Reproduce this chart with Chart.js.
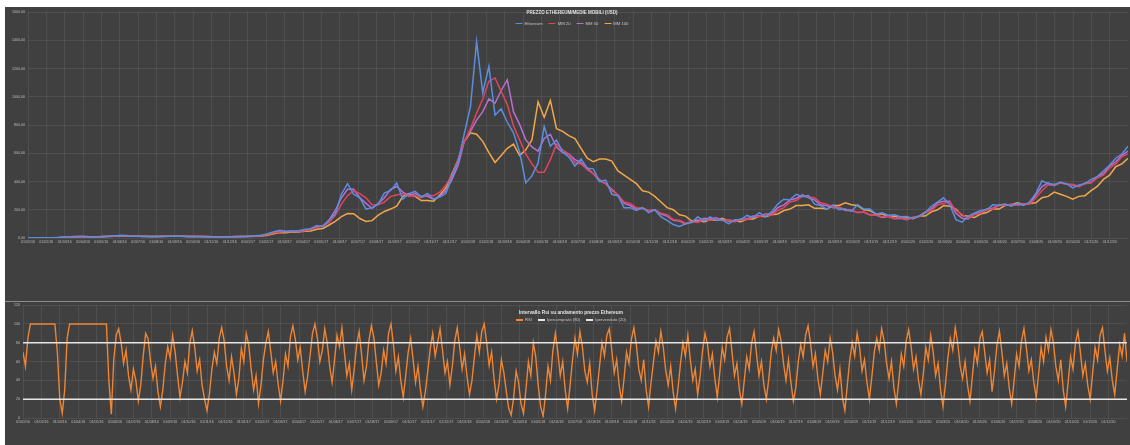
<!DOCTYPE html>
<html>
<head>
<meta charset="utf-8">
<script src="https://cdn.jsdelivr.net/npm/chart.js@4.4.1/dist/chart.umd.min.js"></script>
<style>
  html, body { margin: 0; padding: 0; background: #ffffff; }
  #wrap { position: absolute; left: 5px; top: 7px; width: 1125px; height: 438px; background: #404040; overflow: hidden;
          font-family: "Liberation Sans", Arial, sans-serif; }
  #wrap canvas { position: absolute; left: 0; }
  #priceCanvas { top: 0; }
  #rsiCanvas { top: 293px; }
  .sep { position: absolute; left: 0; top: 294px; width: 1125px; height: 1px; background: #8c8c8c; }
  .title { position: absolute; color: #e2e2e2; font-weight: bold; white-space: nowrap; transform: translateX(-50%); line-height: 1; }
  .legend { position: absolute; color: #c4c4c4; font-size: 4.2px; white-space: nowrap; transform: translateX(-50%);
            display: flex; gap: 6px; align-items: center; line-height: 1; }
  .legend .sw { display: inline-block; width: 7px; height: 1.5px; margin-right: 2px; vertical-align: middle; }
</style>
</head>
<body>
<div id="wrap">
  <canvas id="priceCanvas" width="1125" height="293"></canvas>
  <canvas id="rsiCanvas" width="1125" height="145"></canvas>
  <div class="sep"></div>
  <div class="title" style="left:567px; top:4px; font-size:4.5px;">PREZZO ETHEREUM/MEDIE MOBILI (USD)</div>
  <div class="legend" id="priceLegend" style="left:567px; top:14.5px;"></div>
  <div class="title" style="left:566px; top:304px; font-size:4.8px;">Intervallo Rsi su andamento prezzo Ethereum</div>
  <div class="legend" id="rsiLegend" style="left:566px; top:311px;"></div>
</div>
<script>
// Month labels shown on both time axes
const tickLabels = [
  '01/01/16','01/02/16','01/03/16','01/04/16','01/05/16','01/06/16','01/07/16','01/08/16','01/09/16','01/10/16','01/11/16','01/12/16',
  '01/01/17','01/02/17','01/03/17','01/04/17','01/05/17','01/06/17','01/07/17','01/08/17','01/09/17','01/10/17','01/11/17','01/12/17',
  '01/01/18','01/02/18','01/03/18','01/04/18','01/05/18','01/06/18','01/07/18','01/08/18','01/09/18','01/10/18','01/11/18','01/12/18',
  '01/01/19','01/02/19','01/03/19','01/04/19','01/05/19','01/06/19','01/07/19','01/08/19','01/09/19','01/10/19','01/11/19','01/12/19',
  '01/01/20','01/02/20','01/03/20','01/04/20','01/05/20','01/06/20','01/07/20','01/08/20','01/09/20','01/10/20','01/11/20','01/12/20'
];

// Price samples (USD), about three per month
const ethereum = [
  1,1,1,1,2,3,6,8,11,10, 8,9,10,12,14,18,16,13,12,11,
  10,11,12,13,13,12,11,10,10,9, 8,8,8,9,11,11,13,16,19,30,
  45,55,44,48,52,60,66,88,80,128, 170,310,385,310,285,205,215,240,320,335,
  390,275,315,330,290,315,275,290,315,440, 540,740,930,1390,1030,1217,870,915,820,745,
  610,390,440,530,790,650,695,610,575,510, 560,495,490,400,410,310,300,215,215,195,
  215,180,200,150,125,95,82,100,110,150, 120,150,125,130,100,130,130,160,145,180,
  150,185,240,275,270,310,295,300,240,230, 205,235,200,205,190,235,205,205,170,178,
  162,165,150,152,138,155,178,225,255,285, 235,130,112,155,175,195,200,235,232,240,
  225,245,230,255,315,405,385,380,395,385, 355,375,385,415,435,475,515,565,595,650
];
const mm20 = [
  1,1,1,1,2,3,5,7,9,10, 9,9,10,11,13,16,17,15,14,12,
  11,11,12,12,13,13,12,11,10,10, 9,8,8,9,10,11,12,14,17,24,
  35,42,46,48,48,52,62,74,85,110, 160,240,300,335,315,285,235,235,255,295,
  305,315,295,300,285,305,300,325,375,445, 555,685,775,885,985,1110,1134,1040,945,795,
  695,595,525,465,465,555,665,625,595,535, 525,485,455,415,385,335,305,255,245,215,
  210,195,200,175,165,130,125,105,115,110, 130,125,137,123,125,113,130,130,150,150,
  165,160,195,215,255,265,295,290,285,250, 240,220,220,200,200,180,185,165,167,150,
  155,140,145,133,147,150,180,195,235,245, 255,195,165,140,165,175,200,205,230,230,
  240,233,245,240,285,335,375,375,390,380, 380,365,385,390,425,445,495,525,575,595
];
const mm50 = [
  1,1,1,1,2,4,6,8,10,10, 9,9,10,12,14,17,16,14,12,11,
  10,11,12,13,13,12,11,10,10,9, 8,8,8,9,10,11,13,15,18,26,
  40,48,48,49,44,54,64,80,86,128, 195,285,345,345,285,245,210,245,285,345,
  365,325,300,315,295,295,275,295,335,415, 515,685,755,835,895,985,955,1045,1120,895,
  805,695,645,615,705,735,645,605,595,555, 535,495,455,405,385,345,305,245,230,205,
  210,193,200,170,155,125,120,100,117,120, 140,135,143,125,127,120,135,135,155,155,
  170,170,215,235,270,280,305,285,270,235, 230,215,215,195,195,180,183,163,163,145,
  153,137,140,130,145,155,185,205,250,260, 260,175,140,135,170,180,205,210,235,230,
  237,233,243,243,305,365,390,370,395,380, 375,363,390,395,435,455,510,540,585,615
];
const mm100 = [
  1,1,1,1,1,2,4,6,8,9, 9,8,9,10,12,14,16,15,13,12,
  11,10,11,12,12,12,11,11,10,10, 9,8,8,8,9,10,11,13,15,20,
  30,38,38,44,42,48,50,62,68,92, 118,152,173,172,138,117,123,162,188,205,
  225,295,315,295,265,265,260,305,355,455, 555,685,745,735,685,605,535,585,635,665,
  585,625,695,965,855,975,775,755,725,705, 635,565,540,560,560,545,475,445,415,385,
  335,325,295,255,215,200,165,155,120,125, 113,130,125,140,120,120,115,135,135,155,
  150,165,170,195,205,230,230,235,210,210, 205,230,230,250,235,230,200,195,170,170,
  153,155,140,145,137,155,155,185,200,230, 225,205,160,155,145,170,180,205,205,230,
  235,250,237,245,250,285,295,325,310,295, 275,295,300,335,365,415,445,505,525,565
];

// RSI samples (0-100), about seven or eight per month
const rsi = [
  70,55,85,100,100,100,100,100,100,100, 100,100,100,100,70,20,5,30,85,100,
  100,100,100,100,100,100,100,100,100,100, 100,100,100,100,100,40,4,
  62,88,95,80,58,72,45,30,52,40,18,35,66,90,84,60,42,55,28,12,
  30,58,76,64,88,70,45,22,38,60,48,80,93,75,50,62,35,20,8,26,
  52,70,58,85,96,82,55,40,65,48,25,42,74,60,90,78,52,30,45,15,
  35,62,80,92,70,48,60,36,18,40,68,55,86,98,84,62,75,50,28,44,
  66,90,100,85,60,72,95,80,55,38,62,88,76,96,70,45,58,30,52,78,
  92,68,40,55,82,98,86,60,35,48,72,58,90,100,78,50,65,40,22,45,
  70,85,62,38,55,30,12,28,50,74,90,66,80,95,72,48,60,35,55,82,
  96,75,52,68,44,25,40,65,88,70,92,100,80,56,70,42,20,35,62,48,
  28,10,3,22,50,38,15,5,30,60,45,80,65,35,12,2,25,55,40,72,
  90,70,45,60,30,10,35,62,85,68,92,76,50,38,58,25,8,30,55,80,
  66,88,95,72,48,62,35,18,42,70,58,84,96,78,52,40,62,30,12,38,
  60,82,70,92,75,50,35,55,28,10,32,58,80,66,88,62,40,52,25,45,
  72,90,78,55,68,42,22,48,75,62,86,95,70,45,58,30,15,40,65,52,
  80,92,68,45,60,35,20,42,70,85,72,94,82,58,40,62,38,18,32,60,
  78,65,88,98,80,55,68,42,25,48,72,60,85,70,45,30,52,22,8,35,
  62,80,66,90,75,50,62,38,20,44,70,85,72,95,82,58,42,60,32,15,
  40,68,55,82,94,76,52,65,40,25,48,75,62,88,70,45,58,30,12,36,
  64,85,72,96,80,55,42,60,35,18,45,72,58,84,92,70,48,62,28,50,
  78,92,70,45,58,32,15,40,68,55,82,95,74,50,62,38,22,48,75,60,
  86,72,94,80,55,40,62,30,12,38,65,52,80,92,70,45,58,35,20,48,
  75,62,88,96,72,50,64,40,25,52,78,66,90,60
];
const overbought = 80;
const oversold = 20;

const priceSeries = [
  { name: 'Ethereum', values: ethereum, color: '#5a8ee0' },
  { name: 'MM 20',    values: mm20,     color: '#e0455e' },
  { name: 'MM 50',    values: mm50,     color: '#b76fd0' },
  { name: 'MM 100',   values: mm100,    color: '#f2a64a' }
];

const labelColor = '#bdbdbd';
const gridColor = 'rgba(255,255,255,0.075)';
const tickFont = { family: 'Liberation Sans', size: 3.6 };

function toPoints(values) { return values.map((v, i) => ({ x: i, y: v })); }

function buildLegend(id, items) {
  const box = document.getElementById(id);
  items.forEach(it => {
    const el = document.createElement('span');
    el.innerHTML = '<span class="sw" style="background:' + it.color + '"></span>' + it.name;
    box.appendChild(el);
  });
}

// Month ticks placed along each index axis
function monthTicks(count) {
  const step = (count - 1) / tickLabels.length;
  return s => { s.ticks = tickLabels.map((_, k) => ({ value: k * step })); };
}

// Price chart
new Chart(document.getElementById('priceCanvas'), {
  type: 'line',
  data: {
    datasets: priceSeries.map((s, k) => ({
      label: s.name,
      data: toPoints(s.values),
      borderColor: s.color,
      borderWidth: 1.5,
      pointRadius: 0,
      tension: 0,
      order: k
    }))
  },
  options: {
    responsive: false,
    devicePixelRatio: 1,
    animation: false,
    layout: { padding: { top: 0, right: 2, left: 0, bottom: 0 } },
    plugins: { legend: { display: false }, title: { display: false }, tooltip: { enabled: false } },
    scales: {
      x: {
        type: 'linear', min: 0, max: ethereum.length - 1,
        afterBuildTicks: monthTicks(ethereum.length),
        afterFit: s => { s.height = 62; },
        ticks: { autoSkip: false, maxRotation: 0, padding: 2, color: labelColor, font: tickFont,
                 callback: (v, i) => tickLabels[i] },
        grid: { color: gridColor, drawTicks: false },
        border: { display: false }
      },
      y: {
        min: 0, max: 1600,
        afterFit: s => { s.width = 23; },
        ticks: { stepSize: 200, padding: 3, color: labelColor, font: tickFont,
                 callback: v => v.toFixed(2).replace('.', ',') },
        grid: { color: gridColor, drawTicks: false },
        border: { display: false }
      }
    }
  }
});
buildLegend('priceLegend', priceSeries.map(s => ({ name: s.name, color: s.color })));

// RSI chart
const rsiColor = '#ee8535';
const bandColor = '#e6e6e6';
new Chart(document.getElementById('rsiCanvas'), {
  type: 'line',
  data: {
    datasets: [
      { label: 'RSI', data: toPoints(rsi), borderColor: rsiColor, borderWidth: 1.4, pointRadius: 0, tension: 0, order: 2 },
      { label: 'Ipercomprato (80)', data: [{ x: 0, y: overbought }, { x: rsi.length - 1, y: overbought }],
        borderColor: bandColor, borderWidth: 1.5, pointRadius: 0, order: 0 },
      { label: 'Ipervenduto (20)', data: [{ x: 0, y: oversold }, { x: rsi.length - 1, y: oversold }],
        borderColor: bandColor, borderWidth: 1.5, pointRadius: 0, order: 1 }
    ]
  },
  options: {
    responsive: false,
    devicePixelRatio: 1,
    animation: false,
    layout: { padding: { top: 0, right: 3, left: 0, bottom: 0 } },
    plugins: { legend: { display: false }, title: { display: false }, tooltip: { enabled: false } },
    scales: {
      x: {
        type: 'linear', min: 0, max: rsi.length - 1,
        afterBuildTicks: monthTicks(rsi.length),
        afterFit: s => { s.height = 27; },
        ticks: { autoSkip: false, maxRotation: 0, padding: 2, color: labelColor, font: tickFont,
                 callback: (v, i) => tickLabels[i] },
        grid: { color: gridColor, drawTicks: false },
        border: { display: false }
      },
      y: {
        min: 0, max: 120,
        afterFit: s => { s.width = 18; },
        ticks: { stepSize: 20, padding: 3, color: labelColor, font: tickFont },
        grid: { color: gridColor, drawTicks: false },
        border: { display: false }
      }
    }
  }
});
buildLegend('rsiLegend', [
  { name: 'RSI', color: rsiColor },
  { name: 'Ipercomprato (80)', color: bandColor },
  { name: 'Ipervenduto (20)', color: bandColor }
]);
</script>
</body>
</html>
